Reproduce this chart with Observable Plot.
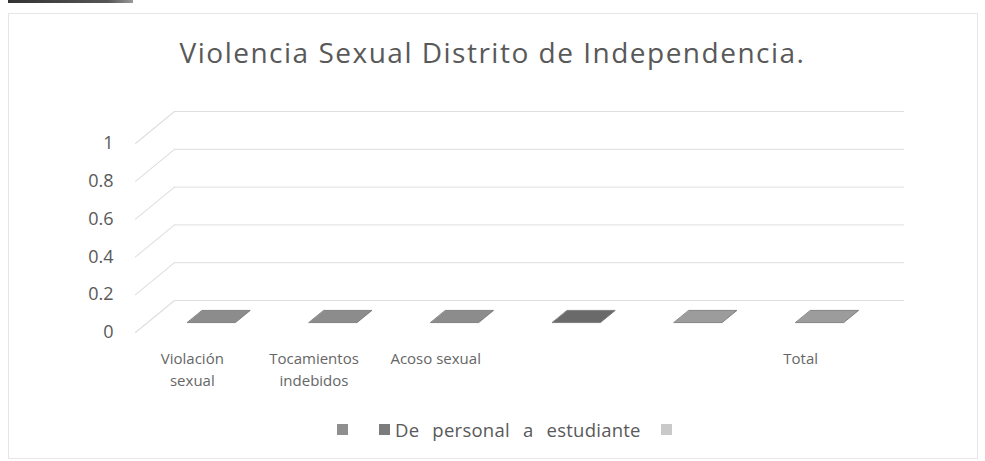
<!DOCTYPE html>
<html>
<head>
<meta charset="utf-8">
<script src="https://cdn.jsdelivr.net/npm/d3@7"></script>
<script src="https://cdn.jsdelivr.net/npm/@observablehq/plot@0.6"></script>
<style>
  body { margin: 0; background: #fff; font-family: "Open Sans", sans-serif; }
  #wrap { position: relative; width: 985px; height: 461px; overflow: hidden; background: #fff; }
  #scan { position: absolute; left: 8px; top: 0; width: 125px; height: 3px; background: linear-gradient(to right, #333, #555 80%, #999); }
  #frame { position: absolute; left: 8px; top: 13px; width: 970px; height: 446px; border: 1px solid #e6e6e6; box-sizing: border-box; }
  #title { position: absolute; left: 0; top: 33px; width: 985px; text-align: center; font-size: 28px; letter-spacing: 1.5px; color: #595959; white-space: nowrap; }
  #chart { position: absolute; left: 0; top: 90px; }
  #legend { position: absolute; left: 337px; top: 417px; display: flex; align-items: center; font-size: 18.5px; word-spacing: 8px; letter-spacing: 0.25px; color: #595959; white-space: nowrap; }
  #legend .sw { width: 11px; height: 11px; display: inline-block; }
</style>
</head>
<body>
<div id="wrap">
  <div id="scan"></div>
  <div id="frame"></div>
  <div id="title"></div>
  <div id="chart"></div>
  <div id="legend"></div>
</div>
<script>
// ---- data ----
const chartTitle = "Violencia Sexual Distrito de Independencia.";
const categories = ["Violación sexual", "Tocamientos indebidos", "Acoso sexual", "", "", "Total"];
const values = [0, 0, 0, 0, 0, 0];
const series = ["", "De personal a estudiante", ""];
const yTicks = [0, 0.2, 0.4, 0.6, 0.8, 1];

// ---- styles ----
const barShades = ["#8c8c8c", "#8c8c8c", "#8c8c8c", "#6a6a6a", "#9c9c9c", "#9c9c9c"];
const seriesShades = ["#8f8f8f", "#7c7c7c", "#c9c9c9"];
const textColor = "#595959";
const gridColor = "#dedede";
const depth = [39, -32];          // pixel offset from front to back wall
const depthLen = Math.hypot(depth[0], depth[1]);
const depthAngle = Math.atan2(depth[0], -depth[1]) * 180 / Math.PI;

document.getElementById("title").textContent = chartTitle;

const rows = categories.map((c, i) => ({i, category: c, value: values[i], shade: barShades[i]}));

// straight line shape for 3D side-wall grid lines
const lineShape = {
  draw(context, l) { context.moveTo(0, 0); context.lineTo(0, -l); }
};
// flat top face of a zero-height 3D column
const halfW = 24, f1 = 0.31, f2 = 0.69, shift = 3;
const faceShape = {
  draw(context) {
    const ax = depth[0] * f1 + shift, ay = depth[1] * f1;
    const bx = depth[0] * f2 + shift, by = depth[1] * f2;
    context.moveTo(-halfW + ax, ay);
    context.lineTo(halfW + ax, ay);
    context.lineTo(halfW + bx, by);
    context.lineTo(-halfW + bx, by);
    context.closePath();
  }
};

const plot = Plot.plot({
  width: 985,
  height: 310,
  marginLeft: 135,
  marginRight: 120,
  marginTop: 53,
  marginBottom: 68,
  style: {fontFamily: "'Open Sans', sans-serif", color: textColor, background: "transparent"},
  x: {type: "linear", domain: [-0.5, categories.length - 0.5], axis: null},
  y: {domain: [0, 1], axis: null},
  marks: [
    // back wall gridlines
    Plot.ruleY(yTicks, {x1: -0.5, x2: categories.length - 0.5, dx: depth[0], dy: depth[1], stroke: gridColor, strokeWidth: 1}),
    // side wall gridlines
    Plot.vector(yTicks, {x: -0.5, y: d => d, length: depthLen, rotate: depthAngle, anchor: "start", shape: lineShape, stroke: gridColor, strokeWidth: 1}),
    // columns (zero height → only the top face shows)
    Plot.vector(rows, {x: "i", y: "value", length: 10, rotate: 0, anchor: "start", shape: faceShape, fill: "shade", stroke: "#707070", strokeWidth: 0.8}),
    Plot.axisY(yTicks, {label: null, tickSize: 0, tickPadding: 22, fontSize: 18, tickFormat: d => String(d), fill: textColor}),
    Plot.axisX(d3.range(categories.length), {label: null, tickSize: 0, tickPadding: 16, fontSize: 15, lineWidth: 7.2, lineHeight: 1.45, dx: -4, tickFormat: i => categories[i], fill: "#666"})
  ]
});
document.getElementById("chart").appendChild(plot);

// legend
const legend = document.getElementById("legend");
series.forEach((s, k) => {
  const sw = document.createElement("span");
  sw.className = "sw";
  sw.style.background = seriesShades[k];
  sw.style.marginLeft = k === 0 ? "0px" : (k === 1 ? "31px" : "20px");
  legend.appendChild(sw);
  if (s) {
    const t = document.createElement("span");
    t.textContent = s;
    t.style.marginLeft = "5px";
    legend.appendChild(t);
  }
});
</script>
</body>
</html>
